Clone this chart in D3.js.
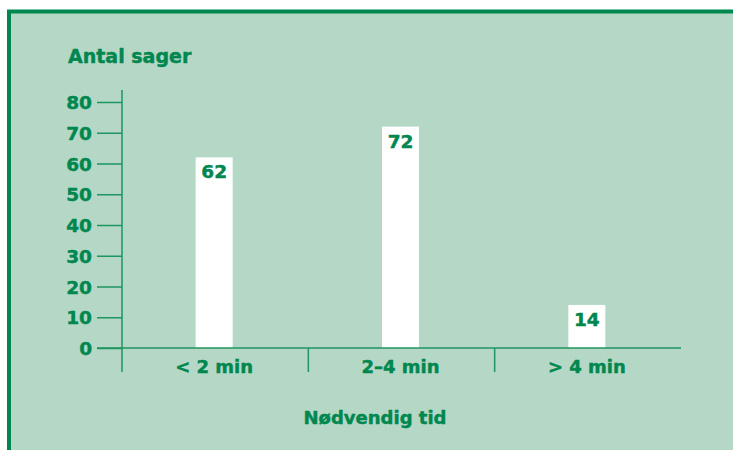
<!DOCTYPE html>
<html>
<head>
<meta charset="utf-8">
<script src="https://cdn.jsdelivr.net/npm/d3@7"></script>
<style>
  html, body { margin: 0; padding: 0; background: #ffffff; }
  svg { display: block; }
  text { font-family: "DejaVu Sans", sans-serif; font-weight: bold; fill: #00874f; stroke: #00874f; stroke-width: 0.45px; }
</style>
</head>
<body>
<svg id="chart" width="733" height="450"></svg>
<script>
const categories = ["< 2 min", "2–4 min", "> 4 min"];
const values = [62, 72, 14];
const yTicks = [0, 10, 20, 30, 40, 50, 60, 70, 80];
const yTitle = "Antal sager";
const xTitle = "Nødvendig tid";

const green = "#00874f";
const axisGreen = "#1f9560";
const bg = "#b5d8c6";

const svg = d3.select("#chart");

// panel with border
svg.append("rect")
  .attr("x", 9).attr("y", 11.5)
  .attr("width", 900).attr("height", 900)
  .attr("fill", bg)
  .attr("stroke", green)
  .attr("stroke-width", 4);

const x = d3.scaleBand().domain(categories).range([121, 680]).paddingInner(0).paddingOuter(0);
const y = d3.scaleLinear().domain([0, 80]).range([348, 102]);

const barW = 37;

// bars
svg.selectAll("rect.bar").data(values).join("rect")
  .attr("class", "bar")
  .attr("x", (d, i) => x(categories[i]) + x.bandwidth() / 2 - barW / 2)
  .attr("y", d => y(d))
  .attr("width", barW)
  .attr("height", d => y(0) - y(d))
  .attr("fill", "#ffffff");

// value labels
svg.selectAll("text.val").data(values).join("text")
  .attr("class", "val")
  .attr("x", (d, i) => x(categories[i]) + x.bandwidth() / 2)
  .attr("y", d => y(d) + 21)
  .attr("text-anchor", "middle")
  .attr("font-size", 18.5)
  .text(d => d);

// y axis
const yAxis = d3.axisLeft(y).tickValues(yTicks).tickSize(25).tickPadding(5);
const gy = svg.append("g").attr("transform", "translate(122,0)").call(yAxis);
gy.select(".domain").remove();
gy.selectAll(".tick line").attr("stroke", axisGreen).attr("stroke-width", 1.5);
gy.selectAll(".tick text")
  .attr("font-size", 18.5)
  .attr("font-family", "DejaVu Sans, sans-serif")
  .attr("font-weight", "bold")
  .attr("fill", green)
  .attr("dy", "0.36em");

svg.append("line")
  .attr("x1", 122).attr("x2", 122)
  .attr("y1", 90).attr("y2", 372)
  .attr("stroke", axisGreen).attr("stroke-width", 1.5);

// x axis line
svg.append("line")
  .attr("x1", 97).attr("x2", 681)
  .attr("y1", y(0)).attr("y2", y(0))
  .attr("stroke", axisGreen).attr("stroke-width", 1.5);

// category dividers
svg.selectAll("line.div").data(categories.slice(1)).join("line")
  .attr("class", "div")
  .attr("x1", d => x(d) + 1).attr("x2", d => x(d) + 1)
  .attr("y1", y(0)).attr("y2", 372)
  .attr("stroke", axisGreen).attr("stroke-width", 1.5);

// category labels
svg.selectAll("text.cat").data(categories).join("text")
  .attr("class", "cat")
  .attr("x", d => x(d) + x.bandwidth() / 2)
  .attr("y", 372.5)
  .attr("text-anchor", "middle")
  .attr("font-size", 18)
  .text(d => d);

// titles
svg.append("text")
  .attr("x", 68).attr("y", 63)
  .attr("font-size", 19)
  .text(yTitle);

svg.append("text")
  .attr("x", 375).attr("y", 424)
  .attr("text-anchor", "middle")
  .attr("font-size", 18)
  .text(xTitle);
</script>
</body>
</html>
